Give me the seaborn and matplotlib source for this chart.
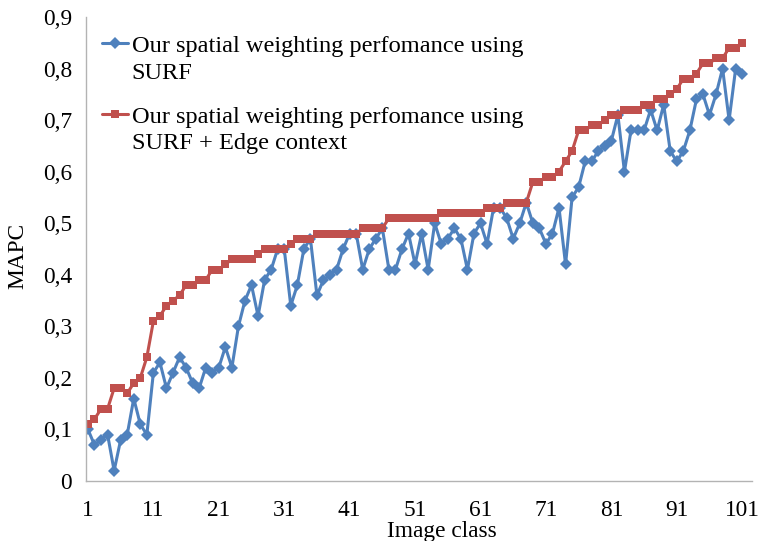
import matplotlib
matplotlib.use("Agg")
import matplotlib.pyplot as plt
import seaborn as sns
import pandas as pd
from matplotlib.ticker import FixedLocator, FuncFormatter
from matplotlib.legend_handler import HandlerLine2D

# values
image_class = list(range(1, 102))
surf = [0.10, 0.07, 0.08, 0.09, 0.02, 0.08, 0.09, 0.16, 0.11, 0.09,
        0.21, 0.23, 0.18, 0.21, 0.24, 0.22, 0.19, 0.18, 0.22, 0.21,
        0.22, 0.26, 0.22, 0.30, 0.35, 0.38, 0.32, 0.39, 0.41, 0.45,
        0.45, 0.34, 0.38, 0.45, 0.47, 0.36, 0.39, 0.40, 0.41, 0.45,
        0.48, 0.48, 0.41, 0.45, 0.47, 0.49, 0.41, 0.41, 0.45, 0.48,
        0.42, 0.48, 0.41, 0.50, 0.46, 0.47, 0.49, 0.47, 0.41, 0.48,
        0.50, 0.46, 0.53, 0.53, 0.51, 0.47, 0.50, 0.54, 0.50, 0.49,
        0.46, 0.48, 0.53, 0.42, 0.55, 0.57, 0.62, 0.62, 0.64, 0.65,
        0.66, 0.71, 0.60, 0.68, 0.68, 0.68, 0.72, 0.68, 0.73, 0.64,
        0.62, 0.64, 0.68, 0.74, 0.75, 0.71, 0.75, 0.80, 0.70, 0.80,
        0.79]
surf_edge = [0.11, 0.12, 0.14, 0.14, 0.18, 0.18, 0.17, 0.19, 0.20, 0.24,
             0.31, 0.32, 0.34, 0.35, 0.36, 0.38, 0.38, 0.39, 0.39, 0.41,
             0.41, 0.42, 0.43, 0.43, 0.43, 0.43, 0.44, 0.45, 0.45, 0.45,
             0.45, 0.46, 0.47, 0.47, 0.47, 0.48, 0.48, 0.48, 0.48, 0.48,
             0.48, 0.48, 0.49, 0.49, 0.49, 0.49, 0.51, 0.51, 0.51, 0.51,
             0.51, 0.51, 0.51, 0.51, 0.52, 0.52, 0.52, 0.52, 0.52, 0.52,
             0.52, 0.53, 0.53, 0.53, 0.54, 0.54, 0.54, 0.54, 0.58, 0.58,
             0.59, 0.59, 0.60, 0.62, 0.64, 0.68, 0.68, 0.69, 0.69, 0.70,
             0.71, 0.71, 0.72, 0.72, 0.72, 0.73, 0.73, 0.74, 0.74, 0.75,
             0.76, 0.78, 0.78, 0.79, 0.81, 0.81, 0.82, 0.82, 0.84, 0.84,
             0.85]
labels = ["Our spatial weighting perfomance using\nSURF",
          "Our spatial weighting perfomance using\nSURF + Edge context"]
x_ticks = list(range(1, 102, 10))
y_ticks = [0.0, 0.1, 0.2, 0.3, 0.4, 0.5, 0.6, 0.7, 0.8, 0.9]

df = pd.DataFrame({"cls": image_class, "surf": surf, "edge": surf_edge})

sns.set_style("white")
plt.rcParams["font.family"] = ["Liberation Serif", "DejaVu Serif"]
plt.rcParams["text.color"] = "black"
plt.rcParams["axes.labelcolor"] = "black"
plt.rcParams["xtick.color"] = "black"
plt.rcParams["ytick.color"] = "black"
fs = 16.8
leg_fs = 17.6


class FirstLineHandler(HandlerLine2D):
    # put the legend symbol next to the first line of a two-line label
    def create_artists(self, legend, orig_handle, xdescent, ydescent,
                       width, height, fontsize, trans):
        return super().create_artists(legend, orig_handle, xdescent,
                                      ydescent - 1.3 * fontsize, width, height,
                                      fontsize, trans)


fig = plt.figure(figsize=(7.59, 5.41), dpi=100)
ax = fig.add_axes([0.1133, 0.1109, 0.8775, 0.8577])

sns.lineplot(data=df, x="cls", y="surf", ax=ax, color="#4F81BD", linewidth=2.2,
             marker="D", markersize=6, markeredgewidth=0, label=labels[0])
sns.lineplot(data=df, x="cls", y="edge", ax=ax, color="#C0504D", linewidth=2.2,
             marker="s", markersize=5.5, markeredgewidth=0, label=labels[1])

ax.set_xlim(0.7, 102.5)
ax.set_ylim(0, 0.9)
ax.xaxis.set_major_locator(FixedLocator(x_ticks))
ax.yaxis.set_major_locator(FixedLocator(y_ticks))
ax.yaxis.set_major_formatter(FuncFormatter(
    lambda v, p: "0" if abs(v) < 1e-9 else f"{v:.1f}".replace(".", ",")))
ax.tick_params(axis="both", length=0, labelsize=fs, colors="black")
ax.tick_params(axis="x", pad=14)
ax.tick_params(axis="y", pad=10)

for side in ["top", "right"]:
    ax.spines[side].set_visible(False)
for side in ["left", "bottom"]:
    ax.spines[side].set_color("#b3b3b3")
    ax.spines[side].set_linewidth(1.0)

ax.set_xlabel("Image class", fontsize=fs, ha="center", va="center")
ax.set_ylabel("MAPC", fontsize=fs, ha="center", va="center")
ax.xaxis.set_label_coords(0.534, -0.108)
ax.yaxis.set_label_coords(-0.102, 0.485)

handles, _ = ax.get_legend_handles_labels()
leg = ax.legend(handles, labels, loc="upper left", bbox_to_anchor=(0.010, 0.980),
                frameon=False, fontsize=leg_fs, handlelength=1.05,
                handletextpad=0.15, labelspacing=0.95, borderaxespad=0,
                handler_map={h: FirstLineHandler() for h in handles})
for t in leg.get_texts():
    t.set_linespacing(1.35)

fig.savefig("out.png", dpi=100)
